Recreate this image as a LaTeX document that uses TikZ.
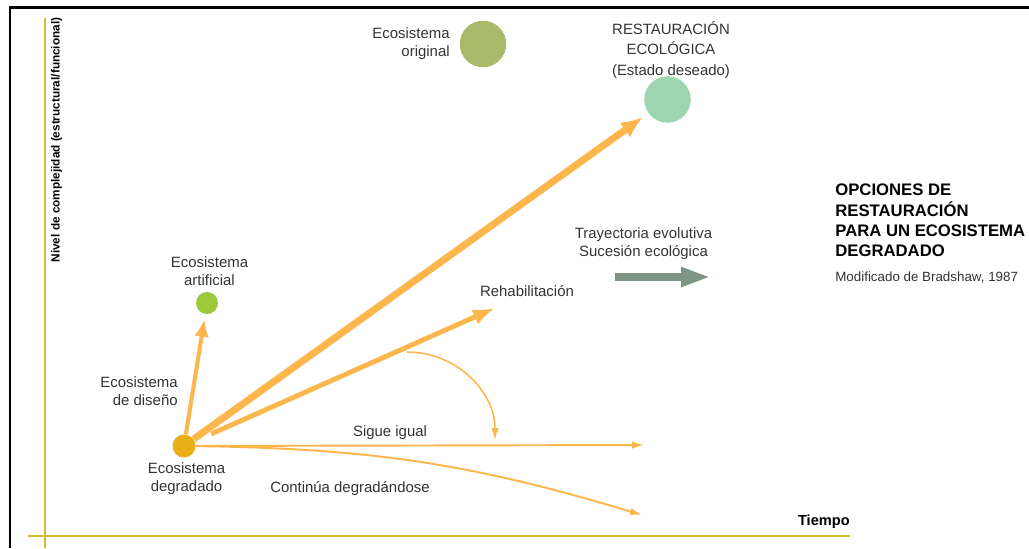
\documentclass[tikz,border=0pt]{standalone}
\usepackage{fontspec}
\setmainfont{Liberation Sans}
\usetikzlibrary{positioning,arrows.meta,calc}
\definecolor{erlaranja}{HTML}{FCB64C}
\definecolor{erdegradado}{HTML}{E9AE14}
\definecolor{erartificial}{HTML}{9CC83C}
\definecolor{eroriginal}{HTML}{A8BA6A}
\definecolor{erdeseado}{HTML}{9ED4AF}
\definecolor{ercinzaverde}{HTML}{7C9585}
\definecolor{ereixo}{HTML}{D6BB2E}
\definecolor{ertexto}{HTML}{333333}
\tikzset{
  ercirculo/.style={circle, draw=none, inner sep=0pt},
  errotulo/.style={font=\fontsize{8.5}{10.5}\selectfont, text=ertexto, align=center, inner sep=0pt},
  ertitulo/.style={font=\fontsize{9.5}{11.6}\selectfont\bfseries, align=left, inner sep=0pt},
  ersetagrossa/.style={-{Latex[length=4.4mm, width=3.6mm]}, line width=4pt, draw=erlaranja},
  ersetamedia/.style={-{Latex[length=4.4mm, width=3.2mm]}, line width=2.8pt, draw=erlaranja},
  ersetadiseno/.style={-{Latex[length=3.4mm, width=3mm]}, line width=2.3pt, draw=erlaranja},
  ersetafina/.style={-{Latex[length=2.4mm, width=1.5mm]}, line width=1.1pt, draw=erlaranja},
  ersetacinza/.style={-{Triangle[length=6mm, width=3.6mm]}, line width=4.5pt, draw=ercinzaverde},
  ereixolinha/.style={line width=1.2pt, draw=ereixo},
}

\begin{document}
\begin{tikzpicture}
    \useasboundingbox (0,0) rectangle (20.58,-10.96);
    % moldura e eixos
    \draw[line width=1.7pt] (0.2,-10.96) -- (0.2,-0.15) -- (20.58,-0.15);
    \draw[ereixolinha] (0.9,-0.36) -- (0.9,-10.96);
    \draw[ereixolinha] (0.56,-10.72) -- (17.0,-10.72);
    \node[font=\fontsize{6.7}{8}\selectfont\bfseries, rotate=90, inner sep=0pt] (eixoy) at (1.13,-2.8) {Nivel de complejidad (estructural/funcional)};
    \node[font=\fontsize{8.3}{10}\selectfont\bfseries, anchor=east, inner sep=0pt] (eixox) at (17.0,-10.44) {Tiempo};
    % estados
    \node[ercirculo, fill=eroriginal, minimum size=0.93cm] (orig) at (9.66,-0.88) {};
    \node[ercirculo, fill=erdeseado, minimum size=0.93cm] (rest) at (13.35,-1.99) {};
    \node[ercirculo, fill=erartificial, minimum size=0.44cm] (art) at (4.14,-6.06) {};
    \node[ercirculo, fill=erdegradado, minimum size=0.46cm] (deg) at (3.68,-8.92) {};
    \node[errotulo, align=right, anchor=east] (lorig) at (9.0,-0.87) {Ecosistema\\original};
    \node[errotulo, font=\fontsize{8.5}{11.5}\selectfont] (lrest) at (13.42,-1.0) {RESTAURACIÓN\\ECOLÓGICA\\(Estado deseado)};
    \node[errotulo] (lart) at (4.19,-5.42) {Ecosistema\\artificial};
    \node[errotulo] (ldeg) at (3.73,-9.57) {Ecosistema\\degradado};
    \node[errotulo, align=right, anchor=east] (ldis) at (3.56,-7.82) {Ecosistema\\de diseño};
    % trajetorias
    \coordinate (rehab) at (9.9,-6.16);
    \coordinate (sigue) at (12.88,-8.9);
    \coordinate (cont) at (12.84,-10.3);
    \coordinate (arcini) at (8.14,-7.04);
    \coordinate (arcfim) at (9.9,-8.8);
    \draw[ersetadiseno, shorten >=1.1mm] (deg) -- (art);
    \draw[ersetagrossa, shorten >=1.3mm] (deg) -- (rest);
    \draw[ersetamedia, shorten <=3.6mm] (deg) -- (rehab);
    \draw[ersetafina] (deg) -- (sigue);
    \draw[ersetafina] (deg) to[bend left=8] (cont);
    \draw[ersetafina, line width=0.9pt] (arcini) .. controls +(0.98,0) and +(0,0.98) .. (arcfim);
    \node[errotulo] (lrehab) at (10.54,-5.82) {Rehabilitación};
    \node[errotulo] (lsigue) at (7.8,-8.66) {Sigue igual};
    \node[errotulo] (lcont) at (7.0,-9.78) {Continúa degradándose};
    % trayectoria evolutiva
    \coordinate (trini) at (12.3,-5.54);
    \coordinate (trfim) at (14.22,-5.54);
    \draw[ersetacinza] (trini) -- (trfim);
    \node[errotulo] (ltray) at (12.87,-4.87) {Trayectoria evolutiva\\Sucesión ecológica};
    % titulo
    \node[ertitulo, anchor=west] (titulo) at (16.7,-4.41) {OPCIONES DE\\RESTAURACIÓN\\PARA UN ECOSISTEMA\\DEGRADADO};
    \node[errotulo, font=\fontsize{7.6}{9}\selectfont, anchor=west] (fonte) at (16.7,-5.56) {Modificado de Bradshaw, 1987};
\end{tikzpicture}
\end{document}
